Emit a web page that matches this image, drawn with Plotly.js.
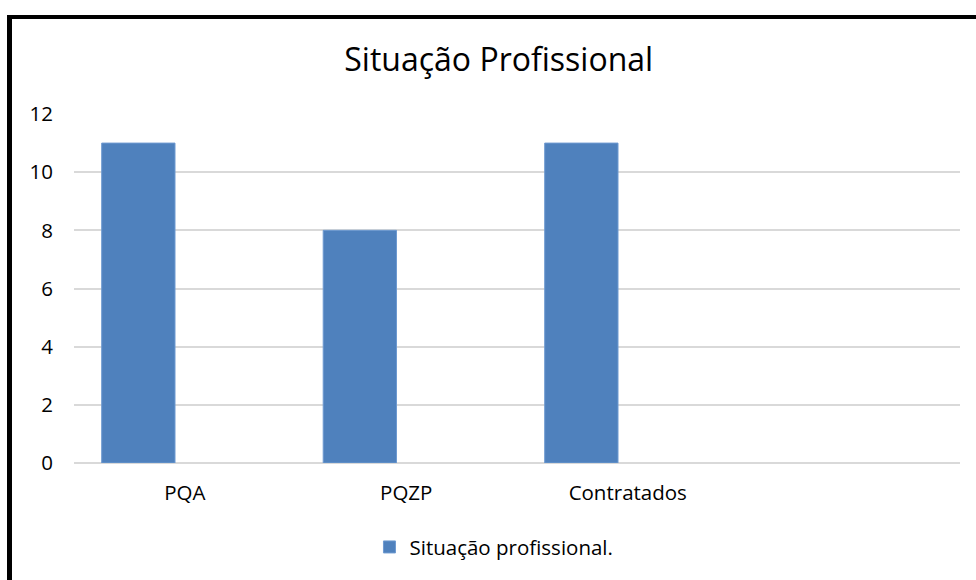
<!DOCTYPE html>
<html>
<head>
<meta charset="utf-8">
<script src="https://cdn.plot.ly/plotly-3.0.1.min.js"></script>
<style>
html,body{margin:0;padding:0;overflow:hidden;background:#fff;}
#wrap{position:relative;width:976px;height:580px;}
#chart{position:absolute;left:0;top:0;width:976px;height:580px;}
#frame{position:absolute;left:7px;top:15px;width:1100px;height:700px;border-left:5px solid #000;border-top:4px solid #000;pointer-events:none;}
</style>
</head>
<body>
<div id="wrap"><div id="chart"></div><div id="frame"></div></div>
<script>
const categories = ["PQA", "PQZP", "Contratados"];
const values = [11, 8, 11];
const seriesName = "Situação profissional.";
const chartTitle = "Situação Profissional";
const yTicks = [0, 2, 4, 6, 8, 10, 12];

const font = "'Open Sans', 'Noto Sans', sans-serif";

Plotly.newPlot('chart', [{
  type: 'bar',
  x: categories,
  y: values,
  name: seriesName,
  width: 0.331,
  offset: -0.375,
  marker: {color: '#4F81BD', line: {color: '#6E9AD1', width: 1}},
  showlegend: true,
  hoverinfo: 'x+y'
}], {
  width: 976, height: 580,
  margin: {l: 74, r: 16, t: 114, b: 117},
  paper_bgcolor: 'rgba(0,0,0,0)',
  plot_bgcolor: 'rgba(0,0,0,0)',
  font: {family: font, color: '#000'},
  title: {text: chartTitle, font: {family: font, size: 32, color: '#000'},
          xref: 'container', x: 0.511, xanchor: 'center',
          yref: 'container', y: 0.897, yanchor: 'middle'},
  xaxis: {type: 'category', range: [-0.5, 3.5], showgrid: false, showline: false,
          zeroline: false, ticks: '', tickfont: {family: font, size: 20.5, color: '#000'},
          ticklabelstandoff: 15, fixedrange: true},
  yaxis: {range: [0, 12], tickvals: yTicks, ticktext: yTicks.map(String),
          showgrid: true, gridcolor: '#D9D9D9', gridwidth: 2,
          zeroline: true, zerolinecolor: '#D9D9D9', zerolinewidth: 2,
          showline: false, ticks: '', tickfont: {family: font, size: 20.5, color: '#000'},
          ticklabelstandoff: 20, fixedrange: true},
  showlegend: true,
  legend: {orientation: 'h', x: 0.474, xanchor: 'center', y: -0.241, yanchor: 'middle',
           font: {family: font, size: 20.5, color: '#000'}, itemwidth: 30},
  bargap: 0
}, {displayModeBar: false, staticPlot: true});
</script>
</body>
</html>
